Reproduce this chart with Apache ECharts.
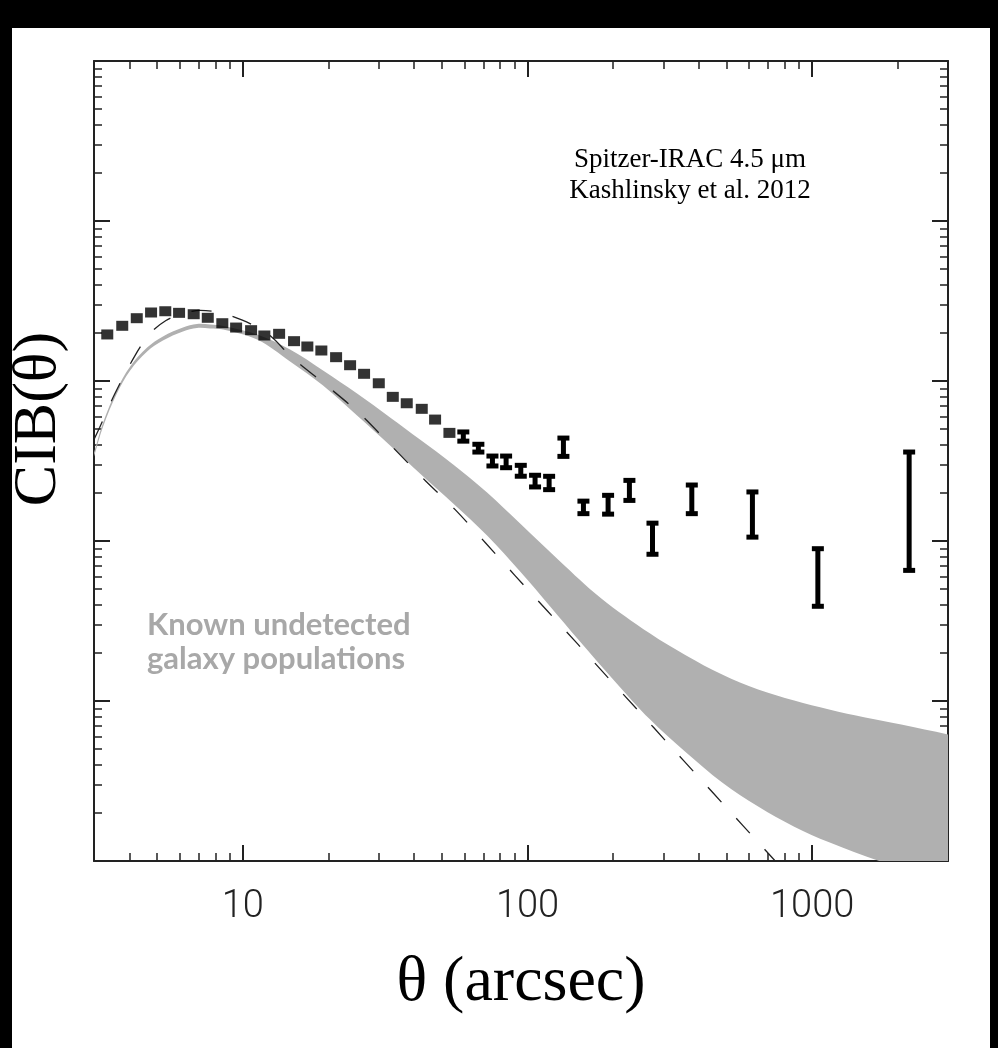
<!DOCTYPE html>
<html>
<head>
<meta charset="utf-8">
<script src="https://cdn.jsdelivr.net/npm/echarts@6/dist/echarts.min.js"></script>
<style>
  html, body { margin: 0; padding: 0; background: #000; }
  #chart { width: 998px; height: 1048px; }
</style>
</head>
<body>
<div id="chart"></div>
<script>
// measured points with symbols larger than the error (squares)
const thetaSq = [3.34, 3.77, 4.24, 4.76, 5.34, 5.97, 6.72, 7.53, 8.47, 9.47, 10.69, 11.9, 13.41, 15.13, 16.85, 18.87, 21.26, 23.81, 26.66, 30.03, 33.63, 37.65, 42.51, 47.35, 53.17];
const cibSq = [1954, 2213, 2469, 2680, 2729, 2667, 2615, 2483, 2297, 2158, 2078, 1925, 1972, 1774, 1643, 1551, 1409, 1255, 1109, 968, 796, 726, 670, 574, 474];

// points drawn as error bars
const thetaErr = [59.5, 67.2, 75.3, 84.1, 94.7, 106.3, 119.1, 133.7, 157.2, 191.9, 228, 274.8, 377.7, 616.7, 1047, 2191];
const errHigh = [498, 417, 352, 352, 308, 267, 263, 456, 184, 200, 248, 134, 232, 210, 92.8, 373];
const errLow = [406, 347, 284, 277, 245, 210, 202, 326, 143, 142, 173, 79.7, 143, 102, 37.7, 63.2];

// grey band: known undetected galaxy populations (edges run a little past the frame)
const bandUpperTheta = [2.7, 3.0, 3.23, 3.61, 4.02, 4.61, 5.24, 6.16, 6.9, 7.67, 8.52, 11.22, 14.65, 19.13, 25.19, 32.9, 41.9, 54.8, 72.1, 94.2, 130.2, 179.9, 269.6, 360.7, 482.8, 646, 864.7, 1147, 1536, 2055, 3000, 3600];
const bandUpper = [192, 357, 551, 885, 1233, 1618, 1897, 2158, 2270, 2253, 2207, 1954, 1574, 1164, 835, 592, 431, 301, 201, 128.5, 74.5, 44.4, 26.4, 19.25, 14.64, 11.8, 10.07, 8.85, 7.88, 7.13, 6.18, 5.74];
const bandLowerTheta = [2.7, 3.0, 3.23, 3.61, 4.02, 4.61, 5.24, 6.16, 6.9, 7.67, 8.52, 11.22, 14.65, 19.13, 25.19, 32.9, 41.9, 54.8, 72.1, 94.2, 120.1, 151.8, 203.2, 269.6, 360.7, 482.8, 646, 864.7, 1147, 1719, 3000, 3600];
const bandLower = [182, 337, 520, 836, 1164, 1528, 1791, 2039, 2143, 2128, 2099, 1815, 1324, 937, 608, 395, 264, 171.4, 108.2, 64.4, 39.0, 23.9, 13.2, 7.65, 4.77, 3.1, 2.19, 1.64, 1.31, 1.0, 0.745, 0.673];

// dashed model curve
const dashTheta = [3.0, 3.14, 3.54, 4.18, 4.72, 5.37, 6.16, 7.07, 7.99, 9.02, 10.6, 12.46, 14.83, 19.68, 25.7, 33.3, 43.7, 55.7, 71.0, 90.4, 116.2, 149.4, 190.4, 246.7, 311.9, 400.8, 506.8, 646, 837];
const dashCib = [431, 512, 824, 1442, 1982, 2389, 2642, 2760, 2716, 2563, 2284, 1925, 1413, 937, 627, 392, 239, 157, 97.9, 60.8, 37.3, 22.9, 14.2, 8.59, 5.42, 3.32, 2.1, 1.31, 0.79];

// axis ticks
const xMajor = [10, 100, 1000];
const xMinor = [4, 5, 6, 7, 8, 9, 20, 30, 40, 50, 60, 70, 80, 90, 200, 300, 400, 500, 600, 700, 800, 900, 2000];
const yMajor = [10, 100, 1000, 10000];
const yMinor = [];
[1, 10, 100, 1000, 10000].forEach(d => {
  for (let k = 2; k <= 9; k++) yMinor.push(k * d);
});

const frameColor = "#222";

function frameAxis(position, min, max, ticks, len, showLine) {
  return {
    type: "log",
    logBase: 10,
    position: position,
    min: min,
    max: max,
    splitLine: { show: false },
    axisLine: { show: showLine, onZero: false, lineStyle: { color: frameColor, width: 2 } },
    axisTick: {
      show: true,
      inside: true,
      length: len,
      customValues: ticks,
      lineStyle: { color: frameColor, width: len > 10 ? 2 : 1.5 },
    },
    axisLabel: { show: false },
  };
}

const chart = echarts.init(document.getElementById("chart"), null, { renderer: "canvas" });

const xBottom = frameAxis("bottom", 3, 3000, xMajor, 16, true);
xBottom.axisLabel = {
  show: true,
  customValues: xMajor,
  formatter: (v) => String(Math.round(v)),
  margin: 27,
  fontFamily: "Roboto",
  fontWeight: 300,
  fontSize: 38,
  color: "#222",
};
xBottom.name = "θ (arcsec)";
xBottom.nameLocation = "middle";
xBottom.nameGap = 90;
xBottom.nameTextStyle = { fontFamily: "Liberation Serif", fontSize: 64, color: "#000" };

const yLeft = frameAxis("left", 1, 100000, yMajor, 16, true);
yLeft.name = "CIB(θ)";
yLeft.nameLocation = "middle";
yLeft.nameRotate = 90;
yLeft.nameGap = 24;
yLeft.nameTextStyle = { fontFamily: "Liberation Serif", fontSize: 62, color: "#000", padding: [0, 0, 0, 84] };

const option = {
  backgroundColor: "#fff",
  animation: false,
  grid: { left: 94, right: 50, top: 61, bottom: 187, outerBoundsMode: "none" },
  graphic: [
    { type: "rect", shape: { x: 0, y: 0, width: 998, height: 28 }, style: { fill: "#000" } },
    { type: "rect", shape: { x: 0, y: 0, width: 12, height: 1048 }, style: { fill: "#000" } },
    { type: "rect", shape: { x: 990, y: 0, width: 8, height: 1048 }, style: { fill: "#000" } },
    {
      type: "text",
      x: 690,
      y: 144,
      style: {
        text: "Spitzer-IRAC 4.5 μm\nKashlinsky et al. 2012",
        font: '27px "Liberation Serif"',
        lineHeight: 31,
        textAlign: "center",
        fill: "#000",
      },
    },
    {
      type: "text",
      x: 147,
      y: 608,
      style: {
        text: "Known undetected\ngalaxy populations",
        font: 'bold 31px "Lato"',
        lineHeight: 34,
        textAlign: "left",
        fill: "#a8a8a8",
      },
    },
  ],
  xAxis: [
    xBottom,
    frameAxis("bottom", 3, 3000, xMinor, 8, false),
    frameAxis("top", 3, 3000, xMajor, 16, true),
    frameAxis("top", 3, 3000, xMinor, 8, false),
  ],
  yAxis: [
    yLeft,
    frameAxis("left", 1, 100000, yMinor, 8, false),
    frameAxis("right", 1, 100000, yMajor, 16, true),
    frameAxis("right", 1, 100000, yMinor, 8, false),
  ],
  series: [
    {
      name: "Galaxy band",
      type: "custom",
      clip: true,
      silent: true,
      data: [[bandUpperTheta[1], bandUpper[1]]],
      renderItem: (params, api) => {
        const pts = [];
        bandUpperTheta.forEach((t, i) => pts.push(api.coord([t, bandUpper[i]])));
        for (let i = bandLowerTheta.length - 1; i >= 0; i--) {
          pts.push(api.coord([bandLowerTheta[i], bandLower[i]]));
        }
        return {
          type: "polygon",
          shape: { points: pts, smooth: 0.35 },
          style: { fill: "#b0b0b0" },
        };
      },
      z: 1,
    },
    {
      name: "Model",
      type: "line",
      data: dashTheta.map((t, i) => [t, dashCib[i]]),
      symbol: "none",
      smooth: 0.3,
      lineStyle: { color: "#222", width: 1.3, type: [20, 22] },
      z: 2,
    },
    {
      name: "CIB",
      type: "scatter",
      data: thetaSq.map((t, i) => [t, cibSq[i]]),
      symbol: "rect",
      symbolSize: [12, 10],
      itemStyle: { color: "#000" },
      z: 3,
    },
    {
      name: "CIB errors",
      type: "custom",
      data: thetaErr.map((t, i) => [t, errLow[i], errHigh[i]]),
      encode: { x: 0, y: [1, 2] },
      renderItem: (params, api) => {
        const top = api.coord([api.value(0), api.value(2)]);
        const bot = api.coord([api.value(0), api.value(1)]);
        return {
          type: "group",
          children: [
            { type: "line", shape: { x1: top[0], y1: top[1] + 2, x2: bot[0], y2: bot[1] - 2 }, style: { stroke: "#000", lineWidth: 5 } },
            { type: "rect", shape: { x: top[0] - 6, y: top[1], width: 12, height: 5 }, style: { fill: "#000" } },
            { type: "rect", shape: { x: bot[0] - 6, y: bot[1] - 5, width: 12, height: 5 }, style: { fill: "#000" } },
          ],
        };
      },
      z: 3,
    },
  ],
};

chart.setOption(option);
</script>
</body>
</html>
